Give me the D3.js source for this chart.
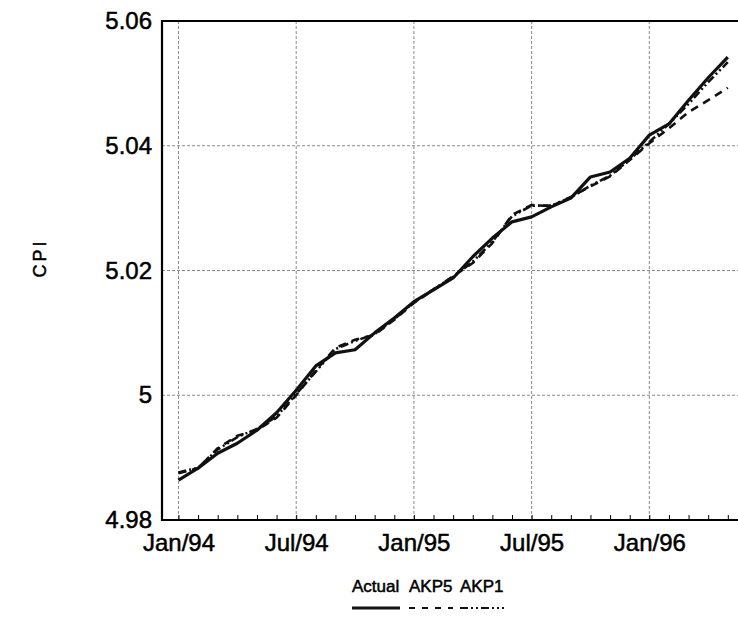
<!DOCTYPE html>
<html>
<head>
<meta charset="utf-8">
<script src="https://cdn.jsdelivr.net/npm/d3@7"></script>
<style>
body { margin:0; background:#fff; }
text { font-family:"Liberation Sans", Arial, sans-serif; fill:#000; stroke:#000; stroke-width:0.5px; }
</style>
</head>
<body>
<svg id="chart"></svg>
<script>

// months since Jan/94
var months = d3.range(0, 29);

var actual = [4.9864, 4.9883, 4.9907, 4.9923, 4.9944, 4.9972, 5.0008, 5.0047, 5.0068, 5.0073,
              5.0100, 5.0124, 5.0150, 5.0169, 5.0188, 5.0222, 5.0252, 5.0278, 5.0286, 5.0302,
              5.0316, 5.0350, 5.0358, 5.0380, 5.0417, 5.0435, 5.0473, 5.0509, 5.0542];

var akp5 = [4.9875, 4.9883, 4.9915, 4.9935, 4.9944, 4.9964, 5.0000, 5.0040, 5.0076, 5.0089,
            5.0097, 5.0121, 5.0148, 5.0169, 5.0191, 5.0212, 5.0244, 5.0289, 5.0305, 5.0303,
            5.0318, 5.0335, 5.0351, 5.0377, 5.0404, 5.0428, 5.0454, 5.0473, 5.0493];

var akp1 = [4.9876, 4.9884, 4.9913, 4.9933, 4.9946, 4.9966, 5.0002, 5.0038, 5.0074, 5.0087,
            5.0098, 5.0122, 5.0149, 5.0170, 5.0190, 5.0214, 5.0246, 5.0287, 5.0304, 5.0304,
            5.0317, 5.0336, 5.0352, 5.0378, 5.0406, 5.0435, 5.0467, 5.0502, 5.0534];

var xTicks = [0, 6, 12, 18, 24];
var xTickLabels = ["Jan/94", "Jul/94", "Jan/95", "Jul/95", "Jan/96"];
var yTicks = [4.98, 5.00, 5.02, 5.04, 5.06];
var yTickLabels = ["4.98", "5", "5.02", "5.04", "5.06"];
var seriesNames = ["Actual", "AKP5", "AKP1"];

var screen = {width:738, height:621};
var margins = {top:21, bottom:101, left:162, right:0};

var graph =
{
    width:screen.width-margins.left-margins.right,
    height:screen.height-margins.top-margins.bottom
};

var xScale = d3.scaleLinear()
    .domain([-0.84, 28.52])
    .range([0, graph.width]);

var yScale = d3.scaleLinear()
    .domain([4.98, 5.06])
    .range([graph.height, 0]);

var styles = [
    {width:3.2, dash:null},
    {width:2.6, dash:"8,6"},
    {width:2.6, dash:"8,3,2,3,2,3"}
];

var svg = d3.select("#chart")
    .attr("width", screen.width)
    .attr("height", screen.height);

var g = svg.append("g")
    .attr("transform", "translate("+margins.left+","+margins.top+")");

// grid
g.selectAll(".vgrid")
    .data(xTicks)
    .enter()
    .append("line")
    .attr("x1", function(d){ return xScale(d); })
    .attr("x2", function(d){ return xScale(d); })
    .attr("y1", 0)
    .attr("y2", graph.height)
    .attr("stroke", "#8a8a8a")
    .attr("stroke-width", 1)
    .attr("stroke-dasharray", "3,2");

g.selectAll(".hgrid")
    .data(yTicks.slice(1, 4))
    .enter()
    .append("line")
    .attr("x1", 0)
    .attr("x2", graph.width)
    .attr("y1", function(d){ return yScale(d); })
    .attr("y2", function(d){ return yScale(d); })
    .attr("stroke", "#8a8a8a")
    .attr("stroke-width", 1)
    .attr("stroke-dasharray", "3,2");

// minor month ticks, pointing up
var minorAxis = d3.axisBottom(xScale)
    .tickValues(months)
    .tickSize(-5)
    .tickFormat("");

g.append("g")
    .attr("transform", "translate(0,"+graph.height+")")
    .call(minorAxis)
    .call(function(a){ a.select(".domain").remove(); })
    .selectAll("line")
    .attr("stroke", "#000");

// x labels
var xAxis = d3.axisBottom(xScale)
    .tickValues(xTicks)
    .tickSize(0)
    .tickPadding(14)
    .tickFormat(function(d, i){ return xTickLabels[i]; });

g.append("g")
    .attr("transform", "translate(0,"+graph.height+")")
    .call(xAxis)
    .call(function(a){ a.select(".domain").remove(); })
    .selectAll("text")
    .style("font-size", "24px")
    .style("font-family", "Liberation Sans, Arial, sans-serif")
    .attr("fill", "#000");

// y labels
var yAxis = d3.axisLeft(yScale)
    .tickValues(yTicks)
    .tickSize(0)
    .tickPadding(10)
    .tickFormat(function(d, i){ return yTickLabels[i]; });

g.append("g")
    .call(yAxis)
    .call(function(a){ a.select(".domain").remove(); })
    .selectAll("text")
    .style("font-size", "24px")
    .style("font-family", "Liberation Sans, Arial, sans-serif")
    .attr("fill", "#000");

// frame: left, top, bottom
g.append("path")
    .attr("d", "M"+(graph.width+2)+",0H0V"+graph.height+"H"+(graph.width+2))
    .attr("fill", "none")
    .attr("stroke", "#000")
    .attr("stroke-width", 2.2);

// lines
var line = d3.line()
    .x(function(d){ return xScale(d[0]); })
    .y(function(d){ return yScale(d[1]); });

var data = [actual, akp5, akp1];

g.selectAll(".series")
    .data(data)
    .enter()
    .append("path")
    .attr("d", function(vals){
        return line(months.map(function(m, i){ return [m, vals[i]]; }));
    })
    .attr("fill", "none")
    .attr("stroke", "#111")
    .attr("stroke-width", function(d, i){ return styles[i].width; })
    .attr("stroke-dasharray", function(d, i){ return styles[i].dash; })
    .attr("stroke-linejoin", "round");

// y title
svg.append("text")
    .attr("transform", "translate(46,258) rotate(-90)")
    .attr("text-anchor", "middle")
    .style("font-size", "18px")
    .style("letter-spacing", "3px")
    .text("CPI");

// legend
var legendX = [352, 409, 460];
var legendW = [48, 44, 44];

var entries = svg.selectAll(".legendEntry")
    .data(seriesNames)
    .enter()
    .append("g")
    .classed("legendEntry", true)
    .attr("transform", function(d, i){ return "translate("+legendX[i]+",0)"; });

entries.append("text")
    .attr("x", 0)
    .attr("y", 592)
    .style("font-size", "17px")
    .text(function(d){ return d; });

entries.append("line")
    .attr("x1", 0)
    .attr("x2", function(d, i){ return legendW[i]; })
    .attr("y1", 608)
    .attr("y2", 608)
    .attr("stroke", "#111")
    .attr("stroke-width", function(d, i){ return i == 0 ? 3 : 2; })
    .attr("stroke-dasharray", function(d, i){ return i == 0 ? null : (i == 1 ? "6,7" : "8,3,2,3,2,3"); });

</script>
</body>
</html>
